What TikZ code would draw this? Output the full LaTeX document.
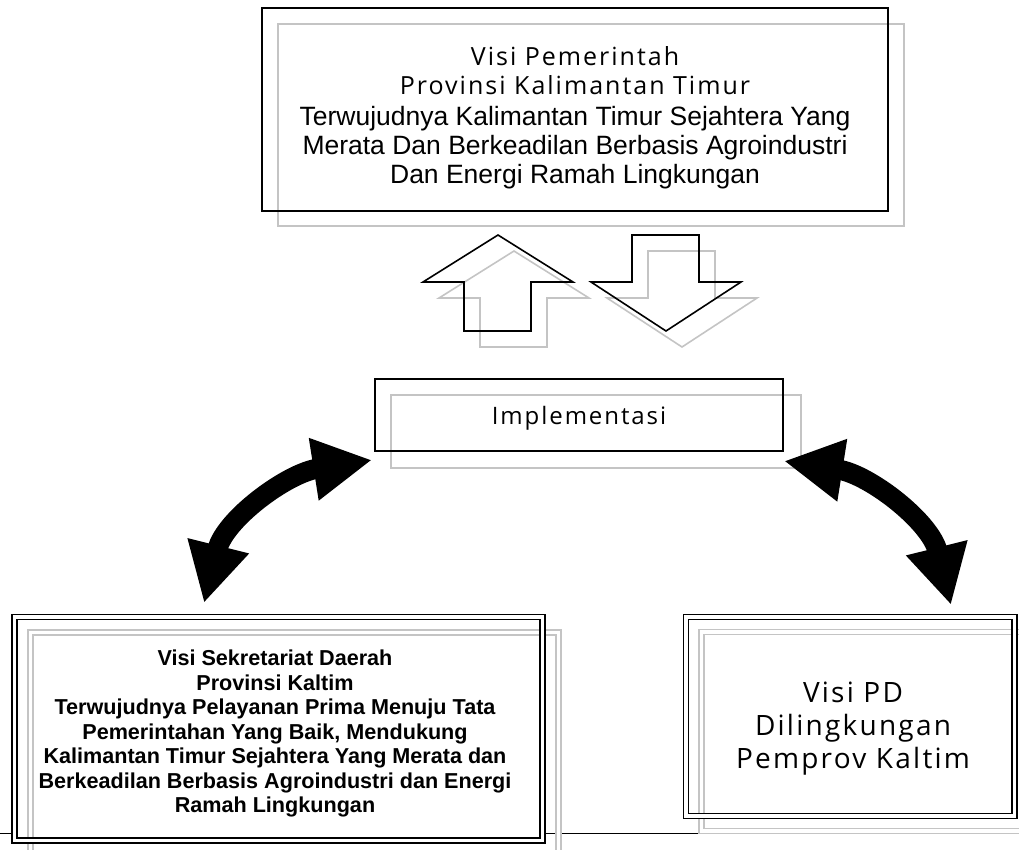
\documentclass[tikz,border=0pt]{standalone}
\usepackage{fontspec}
\usepackage{tikz}
\usetikzlibrary{arrows.meta}
\usetikzlibrary{calc}
\usetikzlibrary{positioning}
\newfontfamily\arialfont{Liberation Sans}
\newfontfamily\visifont[LetterSpace=8]{Open Sans}
\definecolor{shadowgray}{RGB}{196,196,196}

\begin{document}
\begin{tikzpicture}[x=1pt,y=-1pt]
 \tikzstyle{outerbox}=[draw=black, line width=1.8pt, inner sep=0pt]
 \tikzstyle{shadowbox}=[draw=shadowgray, line width=2pt, inner sep=0pt]
 \tikzstyle{doublebox}=[draw=black, line width=1.8pt, double=white, double distance=3.2pt, inner sep=0pt]
 \tikzstyle{doubleshadow}=[draw=shadowgray, line width=1.8pt, double=white, double distance=3.2pt, inner sep=0pt]
 \tikzstyle{boxtext}=[anchor=north, align=center, inner sep=0pt]
 \tikzstyle{bigarrow}=[line width=20pt, {Triangle[length=59pt,width=59pt]}-{Triangle[length=59pt,width=59pt]}]
 \useasboundingbox (0,0) rectangle (1019,849);

 % page rule
 \draw[line width=1pt] (0,833) -- (12.5,833);
 \draw[line width=1pt] (544,833) -- (700,833);

 % shadows
 \node[shadowbox, minimum width=626pt, minimum height=202pt] (pemprovsh) at (591,125) {};
 \node[shadowbox, minimum width=410pt, minimum height=73pt] (implsh) at (596,431) {};
 \node[doubleshadow, minimum width=528pt, minimum height=223.5pt] (setdasha) at (294.5,744.5) {};
 \node[doubleshadow, minimum width=328.5pt, minimum height=199pt] (pdsh) at (866,731.5) {};

 % boxes
 \node[outerbox, minimum width=626pt, minimum height=203pt] (pemprov) at (575,109.5) {};
 \node[outerbox, minimum width=408pt, minimum height=72pt] (impl) at (579,415) {};
 \node[doublebox, minimum width=528pt, minimum height=223.5pt] (setda) at (278.5,728.75) {};
 \node[doublebox, minimum width=328.5pt, minimum height=199pt] (pd) at (850.25,716.5) {};

 \node[boxtext, font=\arialfont\fontsize{26.5}{29}\selectfont] (pemprovtxt) at (575,46)
   {{\visifont\fontsize{25}{29}\selectfont Visi Pemerintah}\\
    {\visifont\fontsize{25}{29}\selectfont Provinsi Kalimantan Timur}\\[2pt]
    Terwujudnya Kalimantan Timur Sejahtera Yang\\
    Merata Dan Berkeadilan Berbasis Agroindustri\\
    Dan Energi Ramah Lingkungan};
 \node[anchor=base, inner sep=0pt, font=\visifont\fontsize{24}{28}\selectfont] (impltxt) at (579,424) {Implementasi};
 \node[boxtext, font=\arialfont\bfseries\fontsize{21.6}{24.5}\selectfont] (setdatxt) at (275,650)
   {Visi Sekretariat Daerah\\
    Provinsi Kaltim\\
    Terwujudnya Pelayanan Prima Menuju Tata\\
    Pemerintahan Yang Baik, Mendukung\\
    Kalimantan Timur Sejahtera Yang Merata dan\\
    Berkeadilan Berbasis Agroindustri dan Energi\\
    Ramah Lingkungan};
 \node[boxtext, font=\visifont\fontsize{28}{33}\selectfont] (pdtxt) at (853,682)
   {Visi PD\\Dilingkungan\\Pemprov Kaltim};

 % up and down block arrows
 \foreach \d/\col in {16/shadowgray, 0/black}{
   \draw[draw=\col, line width=1.6pt, shift={(\d,\d)}]
     (498,235) -- (573,282) -- (531,282) -- (531,331) -- (464,331) -- (464,282) -- (423,282) -- cycle;
   \draw[draw=\col, line width=1.6pt, shift={(\d,\d)}]
     (632,235) -- (699,235) -- (699,282) -- (741,282) -- (666,331) -- (591,282) -- (632,282) -- cycle;
 }

 % curved double arrows
 \coordinate (ltipa) at (204,603);
 \coordinate (ltipb) at (372,460);
 \coordinate (rtipa) at (784,461);
 \coordinate (rtipb) at (951,605);
 \draw[bigarrow] (ltipa) to[out=76,in=189] (ltipb);
 \draw[bigarrow] (rtipa) to[out=-9,in=104] (rtipb);
\end{tikzpicture}
\end{document}
